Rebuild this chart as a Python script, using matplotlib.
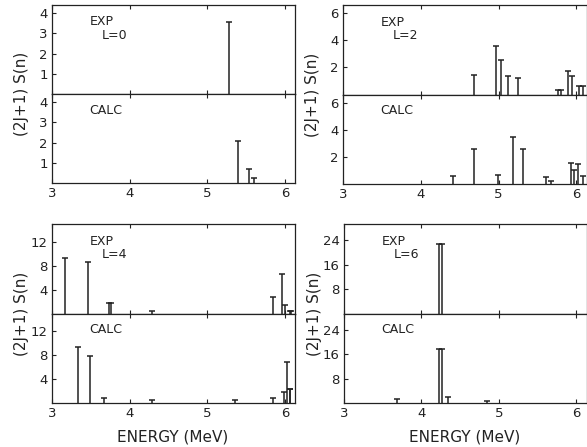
import matplotlib
matplotlib.use("Agg")
import matplotlib.pyplot as plt

# Spectroscopic strengths (2J+1)S(n) versus excitation energy (MeV)
l0_exp_e = [5.28]
l0_exp_s = [3.55]
l0_calc_e = [5.39, 5.54, 5.60]
l0_calc_s = [2.1, 0.68, 0.27]

l2_exp_e = [4.69, 4.97, 5.03, 5.12, 5.25, 5.76, 5.80, 5.89, 5.94, 6.04, 6.08]
l2_exp_s = [1.47, 3.57, 2.53, 1.33, 1.25, 0.36, 0.36, 1.76, 1.35, 0.6, 0.6]
l2_calc_e = [4.41, 4.69, 4.99, 5.18, 5.32, 5.61, 5.67, 5.93, 5.97, 6.02, 6.08]
l2_calc_s = [0.62, 2.59, 0.65, 3.47, 2.59, 0.48, 0.22, 1.56, 1.05, 1.49, 0.62]

l4_exp_e = [3.17, 3.46, 3.73, 3.76, 4.29, 5.85, 5.96, 6.00, 6.06, 6.08]
l4_exp_s = [9.3, 8.55, 1.68, 1.68, 0.4, 2.8, 6.6, 1.45, 0.4, 0.4]
l4_calc_e = [3.33, 3.49, 3.67, 4.29, 5.36, 5.85, 5.99, 6.03, 6.06, 6.07]
l4_calc_s = [9.4, 7.95, 0.9, 0.45, 0.45, 0.9, 1.85, 6.8, 2.4, 2.4]

l6_exp_e = [4.23, 4.27]
l6_exp_s = [22.6, 22.6]
l6_calc_e = [3.68, 4.23, 4.27, 4.34, 4.85]
l6_calc_s = [1.2, 17.7, 17.7, 2.0, 0.67]

panels = [
    # L label, exp data, calc data, ymax, yticks, left/bottom/top/right px, x label?
    ("L=0", (l0_exp_e, l0_exp_s), (l0_calc_e, l0_calc_s), 4.4, [1, 2, 3, 4], 52, 183, 5, 295, False),
    ("L=2", (l2_exp_e, l2_exp_s), (l2_calc_e, l2_calc_s), 6.6, [2, 4, 6], 343, 184, 5, 587, False),
    ("L=4", (l4_exp_e, l4_exp_s), (l4_calc_e, l4_calc_s), 15.0, [4, 8, 12], 52, 403, 224, 295, True),
    ("L=6", (l6_exp_e, l6_exp_s), (l6_calc_e, l6_calc_s), 29.3, [8, 16, 24], 344, 403, 224, 587, True),
]

W, H = 587, 447
INK = "#222222"
fig = plt.figure(figsize=(W / 100, H / 100), dpi=100)


def draw_lines(ax, energies, strengths):
    ax.vlines(energies, 0, strengths, color=INK, lw=1.1)
    ax.plot(energies, strengths, ls="none", marker="_", ms=4, mew=1.1, color=INK)


def style(ax, ymax, yticks):
    ax.set_xlim(3, 6.13)
    ax.set_ylim(0, ymax)
    ax.set_xticks([3, 4, 5, 6])
    ax.set_yticks(yticks)
    ax.tick_params(direction="in", length=3, width=0.8, colors=INK,
                   labelsize=9.5, top=True, pad=3)
    for sp in ax.spines.values():
        sp.set_color(INK)
        sp.set_linewidth(0.9)


for lab, exp, calc, ymax, yticks, left, bot, top, right, xlabel in panels:
    mid = (bot + top) / 2
    x0 = left / W
    w = min(right, W - 0.5) / W - x0
    ax_e = fig.add_axes([x0, 1 - mid / H, w, (mid - top) / H])
    ax_c = fig.add_axes([x0, 1 - bot / H, w, (bot - mid) / H])

    draw_lines(ax_e, *exp)
    draw_lines(ax_c, *calc)
    style(ax_e, ymax, yticks)
    style(ax_c, ymax, yticks)
    ax_e.tick_params(labelbottom=False)

    ax_e.text(0.155, 0.81, "EXP", transform=ax_e.transAxes, fontsize=9,
              va="center", color=INK)
    ax_e.text(0.205, 0.66, lab, transform=ax_e.transAxes, fontsize=9,
              va="center", color=INK)
    ax_c.text(0.155, 0.82, "CALC", transform=ax_c.transAxes, fontsize=9,
              va="center", color=INK)

    fig.text((left - 30) / W, 1 - mid / H, "(2J+1) S(n)", rotation=90,
             ha="center", va="center", fontsize=11, color=INK)
    if xlabel:
        fig.text((left + 121) / W, 1 - 437 / H, "ENERGY (MeV)", ha="center",
                 va="center", fontsize=11, color=INK)

fig.savefig("out.png", dpi=100)
